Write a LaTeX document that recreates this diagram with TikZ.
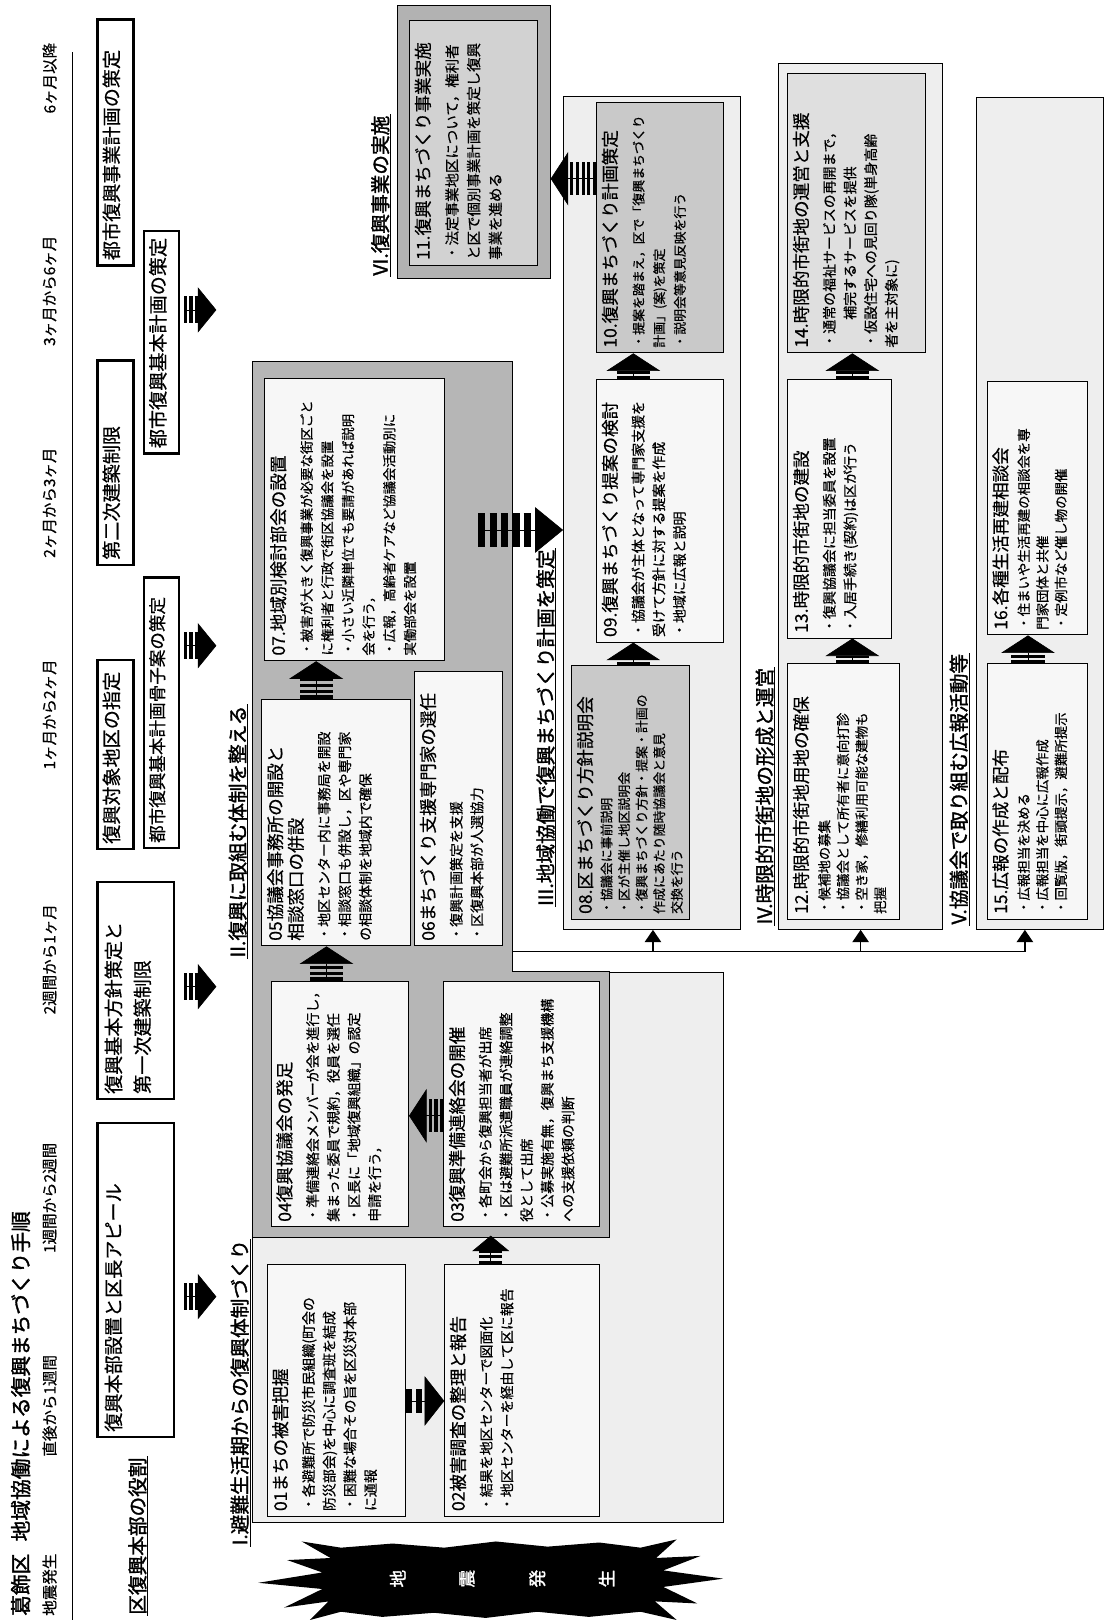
\documentclass[tikz,border=0pt]{standalone}
\usepackage{fontspec}
\usetikzlibrary{arrows.meta,calc}
\newfontfamily\jp{Noto Sans CJK JP}
\newfontfamily\jpm[FakeBold=0.5]{Noto Sans CJK JP}
\newfontfamily\jpb[FakeBold=1.6]{Noto Sans CJK JP}
\newcommand{\bd}{\jpm\fontsize{13.5}{20}\selectfont}
\newcommand{\bdt}{\jpm\fontsize{13}{18}\selectfont}
\newcommand{\rf}{\jpm\fontsize{18.5}{28}\selectfont}
\newcommand{\boxttl}[2][6pt]{{\fontsize{17}{20}\selectfont #2}\\[#1]}
\newcommand{\tbox}[8]{\node[#2, anchor=north west, inner sep=5pt] (#1) at (#3,-#4) {\parbox[c][\dimexpr #6pt-10pt\relax][t]{\dimexpr #5pt-10pt\relax}{#7#8}};}
\newcommand{\blockarr}[5]{\draw[line width=#1, dash pattern=#2, shorten >=#3] #5; \draw[line width=0.6pt, -{Triangle[length=#3,width=#4]}] #5;}
\newcommand{\rowarr}[1]{\blockarr{26pt}{on 3pt off 2pt}{18pt}{44pt}{#1}}
\newcommand{\inarr}[1]{\blockarr{32pt}{on 3pt off 2.5pt}{17pt}{52pt}{#1}}
\tikzset{
 rbox/.style={draw, line width=2.4pt, fill=white},
 lbox/.style={draw, line width=0.9pt, fill=gray!6},
 dbox/.style={draw, line width=0.9pt, fill=gray!42},
 mbox/.style={draw, line width=0.9pt, fill=gray!25},
 ibox/.style={draw, line width=0.9pt, fill=gray!35},
 obox/.style={draw, line width=1pt, fill=gray!60, inner sep=0, anchor=north west},
 panel/.style={draw, line width=0.8pt, fill=gray!13, inner sep=0, anchor=north west},
 dpanel/.style={draw, line width=0.8pt, fill=gray!57},
 lab/.style={font=\jpb\fontsize{19}{19}\selectfont, inner sep=1pt, anchor=west},
 tline/.style={font=\jpm\fontsize{15}{15}\selectfont, inner sep=0pt, anchor=west},
 uline/.style={line width=1pt},
 bus/.style={line width=1.3pt},
 busarr/.style={line width=1.3pt, -{Triangle[length=12pt,width=16pt]}},
 burst/.style={fill=black},
 bursttxt/.style={text=white, font=\jpb\fontsize{17}{17}\selectfont, inner sep=0},
}
\begin{document}
\begin{tikzpicture}[x=1pt,y=1pt]
\useasboundingbox (0,0) rectangle (1070,1568);
\fill[white] (0,0) rectangle (1070,1568);
\begin{scope}[rotate=90, transform shape, font=\jp]
% ---------- title and time line
\node[anchor=west, inner sep=0, font=\jpb\fontsize{20}{20}\selectfont] (title) at (4,-20) {葛飾区\hspace{0.6em}地域協働による復興まちづくり手順};
\node[tline] (t0) at (4,-48) {地震発生};
\node[tline] (t1) at (158,-48) {直後から1週間};
\node[tline] (t2) at (355,-48) {1週間から2週間};
\node[tline] (t3) at (586,-48) {2週間から1ヶ月};
\node[tline] (t4) at (823,-48) {1ヶ月から2ヶ月};
\node[tline] (t5) at (1028,-48) {2ヶ月から3ヶ月};
\node[tline] (t6) at (1233,-48) {3ヶ月から6ヶ月};
\node[tline] (t7) at (1458,-48) {6ヶ月以降};
\draw[line width=0.8pt] (0,-70) -- (1518,-70);
% ---------- ward headquarters row
\node[lab] (LR) at (4,-133) {区復興本部の役割};
\draw[uline] (LR.south west) -- (LR.south east);
\tbox{bA}{rbox}{176}{93}{304}{74}{\rf}{\vspace*{2pt}復興本部設置と区長アピール}
\tbox{bB}{rbox}{503}{93}{210}{74}{\rf}{\vspace*{2pt}復興基本方針策定と\\第一次建築制限}
\tbox{bC}{rbox}{745}{93}{183}{35}{\rf}{復興対象地区の指定}
\tbox{bD}{rbox}{746}{138}{262}{34}{\jpm\fontsize{17}{20}\selectfont}{都市復興基本計画骨子案の策定}
\tbox{bE}{rbox}{1020}{93}{198}{35}{\rf}{第二次建築制限}
\tbox{bF}{rbox}{1128}{138}{215}{34}{\rf}{都市復興基本計画の策定}
\tbox{bG}{rbox}{1310}{93}{238}{35}{\rf}{都市復興事業計画の策定}
\rowarr{($(bA.south west)+(137,-9)$) -- ($(bA.south west)+(137,-40)$)}
\rowarr{($(bB.south west)+(110,-9)$) -- ($(bB.south west)+(110,-40)$)}
\rowarr{($(bD.south west)+(197,-4)$) -- ($(bD.south west)+(197,-35)$)}
\rowarr{($(bF.south west)+(140,-4)$) -- ($(bF.south west)+(140,-35)$)}
% ---------- earthquake burst
\fill[burst] (8,-330) -- (0,-300) -- (18,-318) -- (12,-275) -- (30,-312) -- (36,-250) -- (46,-312) -- (58,-278) -- (60,-320) -- (76,-292) -- (70,-330)
 -- (74,-380) -- (70,-430) -- (76,-480) -- (71,-530) -- (75,-580) -- (70,-620)
 -- (78,-655) -- (60,-635) -- (62,-678) -- (48,-642) -- (40,-700) -- (32,-642) -- (16,-675) -- (18,-634) -- (0,-655) -- (8,-620)
 -- (3,-570) -- (8,-520) -- (2,-470) -- (7,-420) -- (3,-370) -- cycle;
\node[bursttxt] (q1) at (40,-385) {地};
\node[bursttxt] (q2) at (40,-452) {震};
\node[bursttxt] (q3) at (40,-520) {発};
\node[bursttxt] (q4) at (40,-587) {生};
% ---------- section I and II
\node[lab] (LI) at (71,-232) {I.避難生活期からの復興体制づくり};
\draw[uline] (LI.south west) -- (LI.south east);
\node[panel, minimum width=532pt, minimum height=456pt] (pI) at (94,-244) {};
\filldraw[dpanel] (370,-244) -- (1218,-244) -- (1218,-496) -- (628,-496) -- (628,-590) -- (370,-590) -- cycle;
\node[lab] (LII) at (640,-230) {II.復興に取組む体制を整える};
\draw[uline] (LII.south west) -- (LII.south east);
\tbox{b01}{lbox}{100}{258}{244}{134}{\bd}{\boxttl{01まちの被害把握}・各避難所で防災市民組織(町会の\\防災部会)を中心に調査班を結成\\・困難な場合その旨を区災対本部\\に通報}
\tbox{b02}{lbox}{100}{430}{244}{150}{\bd}{\boxttl{02被害調査の整理と報告}・結果を地区センターで図面化\\・地区センターを経由して区に報告}
\tbox{b04}{lbox}{380}{262}{238}{133}{\bd}{\boxttl{04復興協議会の発足}・準備連絡会メンバーが会を進行し，\\集まった委員で規約，役員を選任\\・区長に「地域復興組織」の認定\\申請を行う，}
\tbox{b03}{lbox}{380}{429}{238}{151}{\bd}{\boxttl{03復興準備連絡会の開催}・各町会から復興担当者が出席\\・区は避難所派遣職員が連絡調整\\役として出席\\・公募実施有無，復興まち支援機構\\への支援依頼の判断}
\tbox{b05}{lbox}{652}{253}{239}{144}{\bd}{\boxttl{05協議会事務所の開設と\\相談窓口の併設}・地区センター内に事務局を開設\\・相談窓口も併設し，区や専門家\\の相談体制を地域内で確保}
\tbox{b06}{lbox}{652}{401}{266}{85}{\bd}{\boxttl{06まちづくり支援専門家の選任}・復興計画策定を支援\\・区復興本部が人選協力}
\tbox{b07}{lbox}{928}{256}{273}{174}{\jpm\fontsize{13}{20}\selectfont}{\boxttl{07.地域別検討部会の設置}・被害が大きく復興事業が必要な街区ごと\\に権利者と行政で街区協議会を設置\\・小さい近隣単位でも要請があれば説明\\会を行う，\\・広報，高齢者ケアなど協議会活動別に\\実働部会を設置}
\blockarr{24pt}{on 6pt off 4pt}{19pt}{48pt}{($(b01.south west)+(112,0)$) -- ($(b02.north west)+(112,0)$)}
\blockarr{22pt}{on 3pt off 2pt}{15pt}{36pt}{($(b02.north east)+(0,-45)$) -- ($(b03.north west)+(-8,-46)$)}
\inarr{($(b03.north west)+(108,0)$) -- ($(b04.south west)+(108,0)$)}
\inarr{($(b04.north east)+(0,-54)$) -- ($(b05.north west)+(0,-63)$)}
\inarr{($(b05.north east)+(0,-53)$) -- ($(b07.north west)+(0,-50)$)}
% ---------- section III
\node[lab] (LIII) at (690,-528) {III.地域協働で復興まちづくり計画を策定};
\draw[uline] (LIII.south west) -- (LIII.south east);
\node[panel, minimum width=806pt, minimum height=171pt] (pIII) at (668,-545) {};
\tbox{b08}{dbox}{678}{553}{245}{114}{\jpm\fontsize{12.5}{17}\selectfont}{\boxttl[2pt]{08.区まちづくり方針説明会}・協議会に事前説明\\・区が主催し地区説明会\\・復興まちづくり方針・提案・計画の\\作成にあたり随時協議会と意見\\交換を行う}
\tbox{b09}{lbox}{946}{577}{254}{123}{\bd}{\boxttl{09.復興まちづくり提案の検討}・協議会が主体となって専門家支援を\\受けて方針に対する提案を作成\\・地域に広報と説明}
\tbox{b10}{dbox}{1226}{577}{242}{123}{\jpm\fontsize{12.5}{20}\selectfont}{\boxttl{10.復興まちづくり計画策定}・提案を踏まえ，区で「復興まちづくり\\計画」(案)を策定\\・説明会等意見反映を行う}
\inarr{($(b08.north east)+(0,-60)$) -- ($(b09.north west)+(0,-36)$)}
\inarr{($(b09.north east)+(0,-36)$) -- ($(b10.north west)+(0,-36)$)}
\coordinate (k7) at ($(b07.south west)+(127,-32)$);
\blockarr{32pt}{on 7pt off 4pt}{27pt}{44pt}{(k7) -- (pIII.north -| k7)}
% ---------- section VI
\node[lab] (LVI) at (1300,-368) {VI.復興事業の実施};
\draw[uline] (LVI.south west) -- (LVI.south east);
\node[obox, minimum width=264pt, minimum height=148pt] (b11o) at (1298,-384) {};
\tbox{b11}{ibox}{1311}{396}{237}{124}{\jpm\fontsize{14}{21}\selectfont}{\boxttl{11.復興まちづくり事業実施}・法定事業地区について，権利者\\と区で個別事業計画を策定し復興\\事業を進める}
\inarr{($(b10.north west)+(169,0)$) -- ($(b11o.south west)+(97,0)$)}
% ---------- section IV
\node[lab] (LIV) at (672,-740) {IV.時限的市街地の形成と運営};
\draw[uline] (LIV.south west) -- (LIV.south east);
\node[panel, minimum width=838pt, minimum height=159pt] (pIV) at (668,-753) {};
\tbox{b12}{lbox}{678}{762}{247}{108}{\bdt}{\boxttl[3pt]{12.時限的市街地用地の確保}・候補地の募集\\・協議会として所有者に意向打診\\・空き家，修繕利用可能な建物も\\把握}
\tbox{b13}{lbox}{950}{762}{250}{100}{\bd}{\boxttl{13.時限的市街地の建設}・復興協議会に担当委員を設置\\・入居手続き(契約)は区が行う}
\tbox{b14}{mbox}{1226}{762}{270}{133}{\bd}{\boxttl{14.時限的市街地の運営と支援}・通常の福祉サービスの再開まで，\\\hspace*{2em}補完するサービスを提供\\・仮設住宅への見回り隊(単身高齢\\者を主対象に)}
\inarr{($(b12.north east)+(0,-63)$) -- ($(b13.north west)+(0,-63)$)}
\inarr{($(b13.north east)+(0,-63)$) -- ($(b14.north west)+(0,-63)$)}
% ---------- section V
\node[lab] (LV) at (672,-928) {V.協議会で取り組む広報活動等};
\draw[uline] (LV.south west) -- (LV.south east);
\node[panel, minimum width=805pt, minimum height=123pt] (pV) at (668,-945) {};
\tbox{b15}{lbox}{678}{955}{247}{97}{\bdt}{\boxttl[3pt]{15.広報の作成と配布}・広報担当を決める\\・広報担当を中心に広報作成\\・回覧版，街頭提示，避難所提示}
\tbox{b16}{lbox}{953}{955}{245}{97}{\bdt}{\boxttl[3pt]{16.各種生活再建相談会}・住まいや生活再建の相談会を専\\門家団体と共催\\・定例市など催し物の開催}
\inarr{($(b15.north east)+(0,-40)$) -- ($(b16.north west)+(0,-40)$)}
% ---------- connector bus from II to III, IV, V
\coordinate (bus0) at (647,-496);
\coordinate (j3) at (647,-632);
\coordinate (j4) at (647,-833);
\coordinate (j5) at (647,-992);
\draw[bus] (bus0) -- (j5);
\draw[busarr] (j3) -- (j3 -| pIII.west);
\draw[busarr] (j4) -- (j4 -| pIV.west);
\draw[busarr] (j5) -- (j5 -| pV.west);
\end{scope}
\end{tikzpicture}
\end{document}
